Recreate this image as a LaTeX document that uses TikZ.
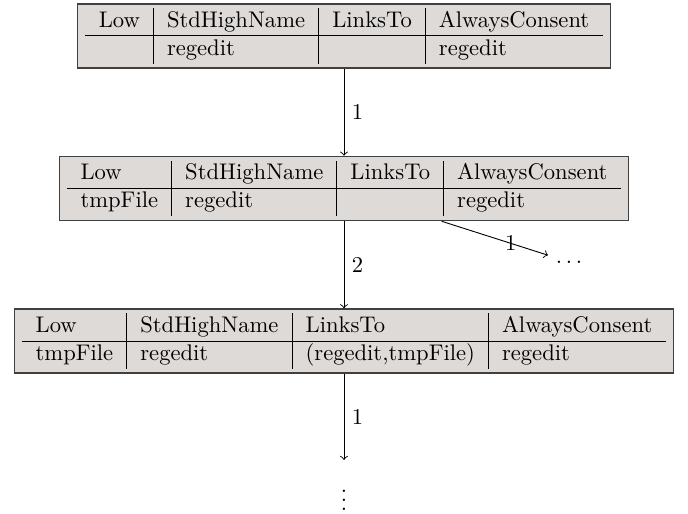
\documentclass[tikz,border=0pt]{standalone}
\usepackage{tikz}
\usetikzlibrary{positioning,calc}
\definecolor{cellbg}{RGB}{222,218,216}
\tikzset{
  tbl/.style  = {rectangle, draw=black!75, semithick, fill=cellbg,
                 inner xsep=3.33pt, inner ysep=2pt},
  flow/.style = {->},
  lbl/.style  = {midway, right},
}

\begin{document}
\begin{tikzpicture}
  \useasboundingbox (0,0) rectangle (304.4pt,-227pt);

  % states
  \node[tbl] (s0) at (152.2pt,-15.9pt) {%
    \begin{tabular}{l|l|l|l}
      Low & StdHighName & LinksTo & AlwaysConsent \\ \hline
          & regedit     &         & regedit
    \end{tabular}};
  \node[tbl, below=38.5pt of s0] (s1) {%
    \begin{tabular}{l|l|l|l}
      Low     & StdHighName & LinksTo & AlwaysConsent \\ \hline
      tmpFile & regedit     &         & regedit
    \end{tabular}};
  \node[tbl, below=38.5pt of s1] (s2) {%
    \begin{tabular}{l|l|l|l}
      Low     & StdHighName & LinksTo            & AlwaysConsent \\ \hline
      tmpFile & regedit     & (regedit,tmpFile)  & regedit
    \end{tabular}};

  % further states
  \node (etc) at (251.8pt,-115.9pt) {$\ldots$};
  \node[anchor=base] (more) at (152.2pt,-225.8pt) {$\vdots$};
  \coordinate (s1out) at ($(s1.south)+(43.2pt,0)$);
  \coordinate (s2end) at (152.2pt,-203.5pt);

  % transitions
  \draw[flow] (s0) -- node[lbl] {1} (s1);
  \draw[flow] (s1) -- node[lbl] {2} (s2);
  \draw[flow] (s1out) -- node[pos=0.65] {1} (etc);
  \draw[flow] (s2) -- node[lbl] {1} (s2end);
\end{tikzpicture}
\end{document}
